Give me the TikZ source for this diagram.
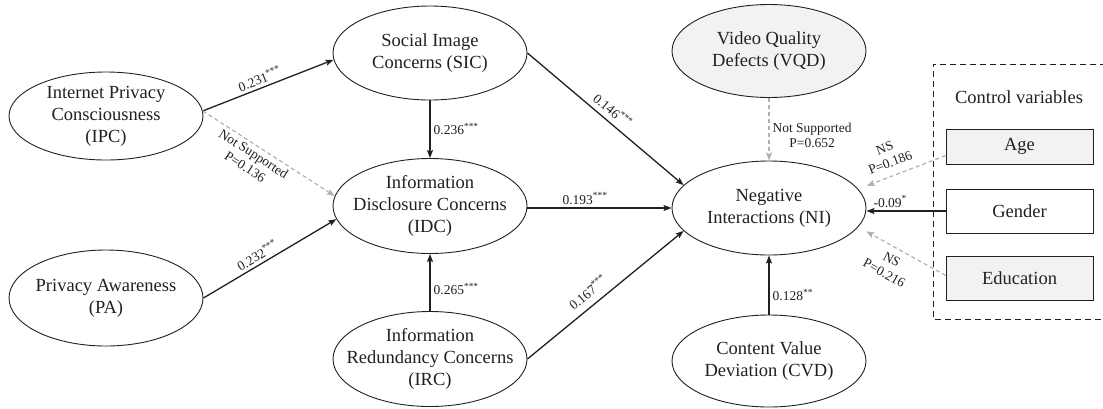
\documentclass[tikz,border=0pt]{standalone}
\usepackage{fontspec}
\setmainfont{Liberation Serif}
\usetikzlibrary{shapes.geometric,arrows.meta,calc}
\definecolor{ink}{HTML}{231F20}
\definecolor{nsgray}{HTML}{B0B0B0}
\definecolor{shade}{HTML}{F1F2F4}
\begin{document}
\begin{tikzpicture}[x=1pt,y=-1pt,
  latent/.style={ellipse, draw=ink, line width=0.9pt, minimum width=194pt, minimum height=94pt, inner sep=0pt},
  shadedlatent/.style={latent, fill=shade},
  txt/.style={align=center, font=\fontsize{18.5}{22}\selectfont, text=ink, inner sep=0pt},
  ctrl/.style={rectangle, draw=ink, line width=0.9pt, minimum width=147pt, minimum height=44pt, inner sep=0pt, font=\fontsize{18.5}{22}\selectfont, text=ink},
  sig/.style={draw=ink, line width=1.3pt, -{Stealth[length=8pt,width=6pt,inset=1.5pt]}},
  nsig/.style={draw=nsgray, line width=1.2pt, dash pattern=on 4pt off 3pt, -{Stealth[length=8pt,width=6pt,inset=1.5pt]}},
  lab/.style={font=\fontsize{13.5}{15.5}\selectfont, text=ink, align=center, inner sep=3pt}
]
\useasboundingbox (0,0) rectangle (1103,408);

% latent variables
\node[latent, minimum height=88pt] (IPC) at (106,116) {};
\node[txt] (IPCt) at (IPC) {Internet Privacy\\Consciousness\\(IPC)};
\node[latent] (SIC) at (430,53) {};
\node[txt] (SICt) at (SIC) {Social Image\\Concerns (SIC)};
\node[latent, minimum height=95pt] (IDC) at (430,206) {};
\node[txt] (IDCt) at (IDC) {Information\\Disclosure Concerns\\(IDC)};
\node[latent, minimum height=96pt] (PA) at (106,298) {};
\node[txt] (PAt) at (PA) {Privacy Awareness\\(PA)};
\node[latent, minimum height=95pt] (IRC) at (430,359) {};
\node[txt] (IRCt) at (IRC) {Information\\Redundancy Concerns\\(IRC)};
\node[shadedlatent, minimum height=93pt] (VQD) at (769,51) {};
\node[txt] (VQDt) at (VQD) {Video Quality\\Defects (VQD)};
\node[latent] (NI) at (769,208) {};
\node[txt] (NIt) at (NI) {Negative\\Interactions (NI)};
\node[latent, minimum height=92pt] (CVD) at (769,361) {};
\node[txt] (CVDt) at (CVD) {Content Value\\Deviation (CVD)};

% control variables
\draw[ink, line width=1pt, dash pattern=on 6pt off 4pt] (1106,64) -- (933,64) -- (933,319) -- (1106,319);
\node[txt] (ctl) at (1019,97) {Control variables};
\node[ctrl, fill=shade, minimum height=35pt] (Age) at (1019.5,146.5) {Age};
\node[ctrl] (Gender) at (1019.5,211) {Gender};
\node[ctrl, fill=shade] (Edu) at (1019.5,278) {Education};

% paths
\draw[sig] (IPC.3) -- node[lab, sloped, above, pos=.46] {0.231\textsuperscript{***}} (SIC.184);
\draw[nsig] (IPC.3) -- node[lab, sloped, below, pos=.42] {Not Supported\\P=0.136} (IDC.174);
\draw[sig] (PA.east) -- node[lab, sloped, above, pos=.44] {0.232\textsuperscript{***}} (IDC.188);
\draw[sig] (SIC.south) -- node[lab, right, pos=.5] {0.236\textsuperscript{***}} (IDC.north);
\draw[sig] (IRC.north) -- node[lab, right, pos=.38] {0.265\textsuperscript{***}} (IDC.south);
\draw[sig] (SIC.east) -- node[lab, sloped, above=2pt, pos=.5] {0.146\textsuperscript{***}} (NI.165);
\draw[sig] (IDC.east |- NI.west) -- node[lab, above, pos=.4] {0.193\textsuperscript{***}} (NI.west);
\draw[sig] (IRC.east) -- node[lab, sloped, above=4pt, pos=.44] {0.167\textsuperscript{***}} (NI.195);
\draw[nsig] (VQD.south) -- node[lab, right, pos=.6] {Not Supported\\P=0.652} (NI.north);
\draw[sig] (CVD.north) -- node[lab, right, pos=.33] {0.128\textsuperscript{**}} (NI.south);
\draw[nsig, shorten >=9pt] (Age.187) -- node[lab, sloped, above=5pt, pos=.58] {NS\\P=0.186} (NI.12);
\draw[sig] (Gender.west) -- node[lab, above, pos=.7] {-0.09\textsuperscript{*}} (Gender.west -| NI.east);
\draw[nsig, shorten >=9pt] (Edu.178) -- node[lab, sloped, below=4pt, pos=.55] {NS\\P=0.216} (NI.-12);
\end{tikzpicture}
\end{document}
